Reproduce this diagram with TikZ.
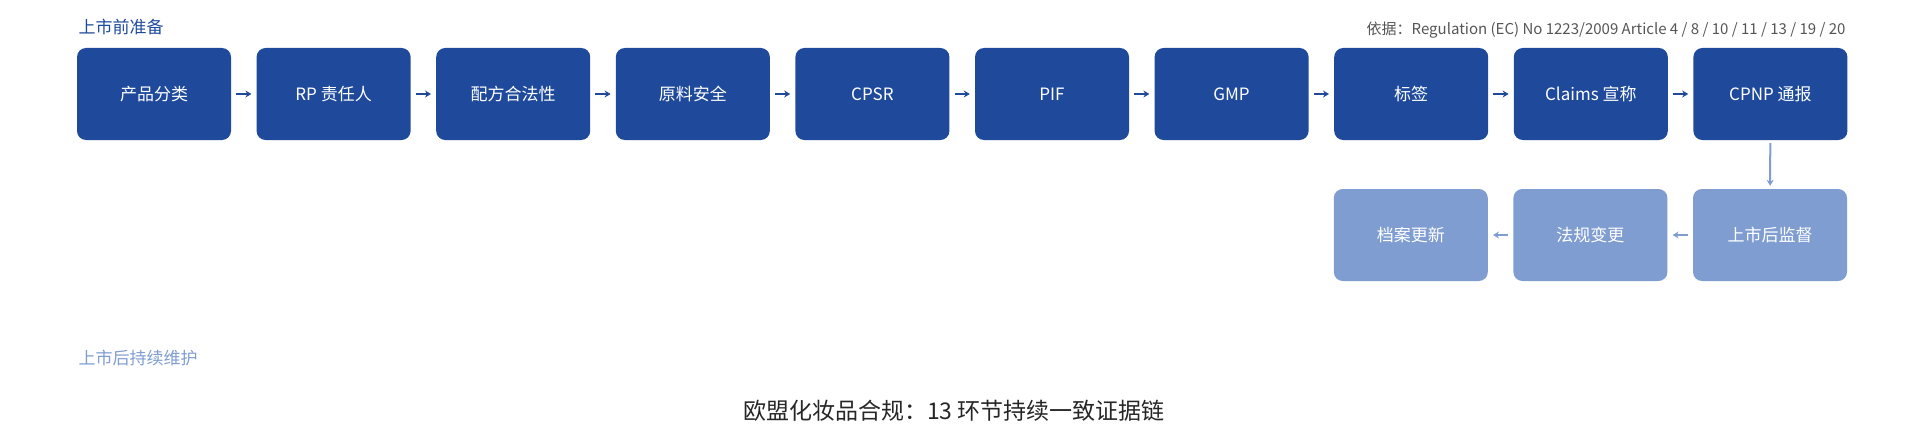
\documentclass[tikz,border=0pt]{standalone}
\usepackage{fontspec}
\setmainfont{Noto Sans CJK SC}
\usetikzlibrary{arrows.meta}
\definecolor{dk}{HTML}{1F4A9C}
\definecolor{lt}{HTML}{7F9DD1}
\definecolor{gr}{HTML}{555555}
\begin{document}
\begin{tikzpicture}[x=1pt,y=-1pt,
 box/.style={rounded corners=9pt,minimum width=154pt,minimum height=92pt,inner sep=0pt,font=\fontsize{17}{20}\selectfont,text=white},
 dbox/.style={box,fill=dk},
 lbox/.style={box,fill=lt},
 darr/.style={-{Stealth[length=6pt,width=7pt]},line width=2pt,dk,shorten <=5pt,shorten >=5pt},
 larr/.style={-{Stealth[length=6pt,width=7pt]},line width=2pt,lt,shorten <=5pt,shorten >=5pt}]
\useasboundingbox (0,0) rectangle (1908,444);
\foreach \i/\t [count=\n] in {0/产品分类,1/RP 责任人,2/配方合法性,3/原料安全,4/CPSR,5/PIF,6/GMP,7/标签,8/Claims 宣称,9/CPNP 通报}
  \node[dbox] (a\n) at ({154+\i*179.6},94) {\t};
\node[lbox] (b1) at (1770,235) {上市后监督};
\node[lbox] (b2) at (1590.4,235) {法规变更};
\node[lbox] (b3) at (1410.8,235) {档案更新};
\foreach \a/\b in {1/2,2/3,3/4,4/5,5/6,6/7,7/8,8/9,9/10} \draw[darr] (a\a) -- (a\b);
\draw[larr,shorten <=3pt,shorten >=3pt] (a10) -- (b1);
\draw[larr] (b1) -- (b2);
\draw[larr] (b2) -- (b3);
\node[anchor=west,text=dk,font=\fontsize{17}{20}\selectfont] (t1) at (75,27) {上市前准备};
\node[anchor=west,text=lt,font=\fontsize{17}{20}\selectfont] (t2) at (75,358) {上市后持续维护};
\node[anchor=east,text=gr,font=\fontsize{15}{18}\selectfont] (t3) at (1849,30) {依据：Regulation (EC) No 1223/2009 Article 4 / 8 / 10 / 11 / 13 / 19 / 20};
\node[text=black!85,font=\fontsize{23}{27}\selectfont] (t4) at (954,411) {欧盟化妆品合规：13 环节持续一致证据链};
\end{tikzpicture}
\end{document}
